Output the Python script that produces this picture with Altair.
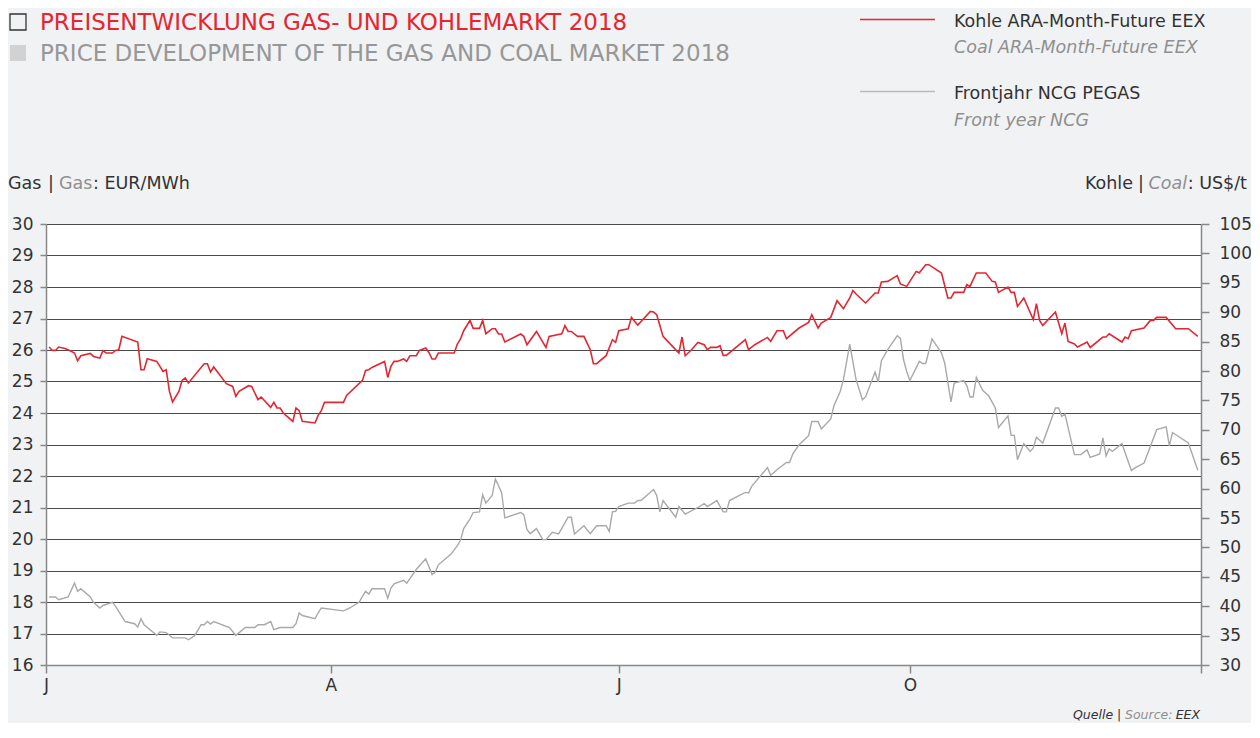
import altair as alt
import pandas as pd

# ---------------- data ----------------
# day offsets from 1 Jan 2018, coal price in US$/t (right axis)
coal_days = [1, 2, 3, 4, 6, 7, 9, 10, 11, 14,
             15, 17, 18, 19, 21, 22, 23, 24, 29, 30,
             31, 32, 35, 37, 38, 39, 40, 42, 43, 44,
             45, 50, 51, 52, 53, 57, 59, 60, 61, 64,
             65, 67, 68, 71, 72, 73, 74, 75, 78, 79,
             80, 81, 85, 86, 87, 88, 94, 95, 100, 101,
             102, 103, 107, 108, 109, 110, 111, 113, 114, 115,
             117, 118, 120, 121, 122, 123, 124, 129, 130, 131,
             132, 134, 135, 137, 138, 139, 141, 142, 143, 144,
             145, 150, 151, 152, 155, 158, 159, 163, 164, 165,
             166, 168, 170, 172, 173, 174, 177, 179, 180, 181,
             184, 185, 187, 191, 192, 193, 195, 198, 200, 201,
             202, 204, 206, 208, 209, 210, 212, 213, 214, 215,
             221, 222, 224, 228, 229, 231, 233, 234, 238, 241,
             242, 244, 245, 248, 250, 252, 254, 255, 256, 259,
             262, 263, 264, 266, 269, 270, 272, 275, 276, 278,
             279, 283, 285, 286, 287, 290, 291, 292, 294, 297,
             299, 300, 301, 304, 305, 306, 307, 309, 312, 313,
             314, 315, 319, 321, 322, 323, 325, 326, 329, 330,
             334, 335, 336, 340, 341, 342, 343, 347, 349, 350,
             351, 354, 357, 361, 364]
coal_values = [84.08, 83.50, 83.50, 84.08, 83.84, 83.62, 83.06, 81.75, 82.60, 82.99,
               82.48, 82.21, 83.45, 83.06, 83.06, 83.50, 83.62, 85.89, 84.93, 80.22,
               80.22, 82.09, 81.63, 79.93, 80.22, 76.53, 74.73, 76.53, 78.40, 78.81,
               77.96, 81.24, 81.24, 79.83, 80.68, 77.84, 77.38, 75.68, 76.53, 77.50,
               77.38, 75.12, 75.58, 73.81, 74.66, 73.71, 73.71, 72.86, 71.43, 73.71,
               73.25, 71.43, 71.16, 72.45, 73.25, 74.66, 74.66, 75.85, 78.40, 80.10,
               80.22, 80.61, 81.63, 78.91, 80.78, 81.63, 81.63, 82.04, 81.63, 82.60,
               82.60, 83.50, 83.91, 83.16, 82.04, 82.04, 83.06, 83.06, 84.59, 85.44,
               86.85, 88.61, 87.25, 87.25, 88.61, 86.34, 87.19, 87.19, 86.29, 86.29,
               84.93, 86.29, 85.89, 84.47, 86.73, 84.01, 85.89, 86.34, 87.70, 86.73,
               86.73, 85.89, 85.89, 83.62, 81.24, 81.24, 82.60, 85.32, 84.86, 86.85,
               87.19, 89.12, 87.82, 90.14, 90.03, 89.58, 85.89, 84.18, 83.06, 85.78,
               82.60, 83.62, 84.86, 84.47, 83.62, 84.01, 84.01, 84.30, 82.65, 82.65,
               85.32, 83.62, 84.47, 85.71, 85.03, 86.85, 86.85, 85.49, 87.31, 88.27,
               89.58, 87.31, 88.16, 89.12, 91.96, 90.60, 92.42, 93.71, 93.10, 91.57,
               93.27, 93.27, 95.14, 95.24, 96.21, 94.80, 94.39, 96.94, 96.72, 98.08,
               98.08, 96.67, 92.42, 92.42, 93.37, 93.37, 94.68, 94.39, 96.67, 96.67,
               95.24, 95.14, 93.37, 94.29, 93.37, 93.37, 90.99, 92.42, 88.73, 91.45,
               88.61, 87.76, 90.03, 86.34, 88.16, 85.03, 84.59, 84.08, 84.93, 84.01,
               85.78, 85.78, 86.34, 84.93, 85.78, 85.49, 86.85, 87.31, 88.61, 88.61,
               89.12, 89.12, 87.19, 87.19, 85.89]

# day offsets from 1 Jan 2018, gas price in EUR/MWh (left axis)
gas_days = [1, 3, 4, 7, 9, 10, 11, 14, 15, 17,
            18, 21, 22, 25, 28, 29, 30, 31, 35, 36,
            38, 40, 44, 45, 47, 49, 50, 51, 52, 53,
            58, 60, 63, 66, 67, 69, 71, 72, 74, 78,
            79, 80, 81, 85, 86, 87, 94, 96, 99, 100,
            101, 102, 103, 107, 108, 109, 110, 113, 114, 115,
            117, 120, 122, 123, 124, 128, 130, 131, 132, 134,
            135, 137, 138, 139, 141, 142, 143, 144, 145, 150,
            151, 152, 153, 155, 157, 158, 160, 162, 165, 166,
            167, 170, 172, 174, 177, 178, 179, 180, 181, 184,
            186, 187, 188, 192, 193, 194, 195, 199, 200, 202,
            206, 208, 209, 212, 214, 215, 216, 219, 221, 222,
            223, 228, 229, 231, 234, 235, 236, 238, 241, 242,
            244, 245, 248, 249, 251, 252, 254, 256, 258, 259,
            262, 263, 264, 266, 269, 270, 271, 272, 273, 276,
            277, 278, 280, 283, 284, 286, 287, 290, 291, 292,
            293, 294, 296, 298, 300, 301, 304, 305, 306, 307,
            309, 311, 312, 313, 315, 319, 320, 321, 322, 325,
            327, 329, 330, 333, 334, 335, 336, 337, 340, 343,
            344, 347, 349, 351, 354, 355, 356, 361, 364]
gas_values = [18.16, 18.16, 18.07, 18.16, 18.60, 18.34, 18.42, 18.16, 17.99, 17.81,
              17.89, 17.99, 17.86, 17.38, 17.31, 17.21, 17.47, 17.28, 16.94, 17.05,
              17.03, 16.86, 16.86, 16.80, 16.93, 17.28, 17.28, 17.38, 17.30, 17.38,
              17.19, 16.94, 17.19, 17.19, 17.28, 17.28, 17.38, 17.12, 17.19, 17.19,
              17.31, 17.65, 17.57, 17.47, 17.65, 17.81, 17.72, 17.81, 18.00, 18.18,
              18.34, 18.25, 18.42, 18.42, 18.12, 18.44, 18.58, 18.69, 18.60, 18.74,
              19.03, 19.37, 18.87, 18.95, 19.18, 19.52, 19.79, 19.96, 20.33, 20.64,
              20.84, 20.86, 21.41, 21.14, 21.38, 21.90, 21.70, 21.46, 20.67, 20.84,
              20.77, 20.30, 20.17, 20.33, 19.98, 19.98, 20.21, 20.16, 20.69, 20.69,
              20.16, 20.42, 20.17, 20.42, 20.42, 20.24, 20.86, 20.88, 21.03, 21.14,
              21.14, 21.22, 21.22, 21.57, 21.38, 20.86, 21.22, 20.69, 21.03, 20.79,
              21.00, 21.12, 21.03, 21.22, 20.86, 20.86, 21.22, 21.38, 21.48, 21.46,
              21.67, 22.27, 22.02, 22.20, 22.43, 22.43, 22.70, 22.99, 23.28, 23.73,
              23.73, 23.49, 23.81, 24.23, 24.69, 25.06, 26.19, 25.06, 24.42, 24.51,
              25.30, 24.98, 25.66, 26.01, 26.45, 26.37, 25.69, 25.32, 25.03, 25.64,
              25.57, 25.57, 26.35, 25.90, 25.59, 24.35, 24.95, 25.03, 24.87, 24.51,
              24.51, 25.13, 24.72, 24.53, 24.16, 23.54, 23.91, 23.29, 23.29, 22.52,
              23.03, 22.78, 22.89, 23.23, 23.05, 24.16, 24.16, 23.89, 23.97, 22.68,
              22.68, 22.83, 22.59, 22.70, 23.21, 22.64, 22.86, 22.78, 23.03, 22.17,
              22.25, 22.41, 22.94, 23.47, 23.56, 22.96, 23.38, 23.05, 22.18]

assert len(coal_days) == len(coal_values)
assert len(gas_days) == len(gas_values)

gas_ticks = list(range(16, 31))
coal_ticks = list(range(30, 106, 5))

# ---------------- style ----------------
FONT = "DejaVu Sans"
RED = "#e52630"
GRAY_LINE = "#a9a9a9"
TXT = "#333333"
TXT_GRAY = "#8f8f8f"
BG = "#f1f2f4"
W, H = 1155, 441
OX, OY = 46, 224  # absolute page position of plot origin (for annotations)

start = pd.Timestamp("2018-01-01")
coal_df = pd.DataFrame({"date": [start + pd.Timedelta(days=d) for d in coal_days],
                        "v": coal_values})
gas_df = pd.DataFrame({"date": [start + pd.Timedelta(days=d) for d in gas_days],
                       "v": gas_values})

x_scale = alt.Scale(domain=[alt.DateTime(year=2018, month=1, date=1),
                            alt.DateTime(year=2019, month=1, date=1)], nice=False)


def make_x_axis():
    return alt.Axis(
        title=None, grid=False,
        values=[alt.DateTime(year=2018, month=1, date=1), alt.DateTime(year=2018, month=4, date=1),
                alt.DateTime(year=2018, month=7, date=1), alt.DateTime(year=2018, month=10, date=1),
                alt.DateTime(year=2019, month=1, date=1)],
        labelExpr="year(datum.value) == 2019 ? '' : substring(timeFormat(datum.value, '%b'), 0, 1)",
        labelFont=FONT, labelFontSize=17, labelColor=TXT, labelPadding=4,
        tickSize=8, tickColor="#888888", domainColor="#888888", domainWidth=1.5, tickWidth=1.5,
        labelFlush=False, labelOverlap=False,
    )


gas_line = alt.Chart(gas_df).mark_line(color=GRAY_LINE, strokeWidth=1.4).encode(
    x=alt.X("date:T", scale=x_scale, axis=make_x_axis()),
    y=alt.Y("v:Q", scale=alt.Scale(domain=[16, 30], nice=False, zero=False),
            axis=alt.Axis(orient="left", title=None, values=gas_ticks, grid=True,
                          gridColor="#4a4a4a", gridWidth=1.1,
                          labelFont=FONT, labelFontSize=17, labelColor=TXT, labelPadding=7,
                          tickSize=6, tickColor="#888888", tickWidth=1.5,
                          domainColor="#888888", domainWidth=1.5)),
)

coal_line = alt.Chart(coal_df).mark_line(color=RED, strokeWidth=1.6).encode(
    x=alt.X("date:T", scale=x_scale, axis=make_x_axis()),
    y=alt.Y("v:Q", scale=alt.Scale(domain=[30, 105], nice=False, zero=False),
            axis=alt.Axis(orient="right", title=None, values=coal_ticks, grid=False,
                          labelFont=FONT, labelFontSize=17, labelColor=TXT, labelPadding=10,
                          tickSize=8, tickColor="#888888", tickWidth=1.5,
                          domainColor="#888888", domainWidth=1.5)),
)


def txt(s, x, y, size, color, italic=False, align="left"):
    return alt.Chart(pd.DataFrame({"t": [s]})).mark_text(
        align=align, baseline="alphabetic", font=FONT, fontSize=size, color=color,
        fontStyle="italic" if italic else "normal",
    ).encode(x=alt.value(x - OX), y=alt.value(y - OY), text="t:N")


def rule(x1, x2, y, color, w):
    return alt.Chart(pd.DataFrame({"a": [0]})).mark_rule(color=color, strokeWidth=w).encode(
        x=alt.value(x1 - OX), x2=alt.value(x2 - OX), y=alt.value(y - OY))


def box(x1, y1, x2, y2, fill, stroke):
    props = dict(strokeWidth=1.3)
    if fill:
        props["fill"] = fill
    else:
        props["fillOpacity"] = 0
    if stroke:
        props["stroke"] = stroke
    return alt.Chart(pd.DataFrame({"a": [0]})).mark_rect(**props).encode(
        x=alt.value(x1 - OX), x2=alt.value(x2 - OX), y=alt.value(y1 - OY), y2=alt.value(y2 - OY))


annos = [
    box(10, 14, 26, 30, None, "#333333"),
    txt("PREISENTWICKLUNG GAS- UND KOHLEMARKT 2018", 40, 30, 23, RED),
    box(10, 45, 26, 61, "#d2d2d2", None),
    txt("PRICE DEVELOPMENT OF THE GAS AND COAL MARKET 2018", 40, 61, 23, "#979797"),
    rule(860, 935, 19.5, RED, 1.5),
    txt("Kohle ARA-Month-Future EEX", 954, 27, 17.5, TXT),
    txt("Coal ARA-Month-Future EEX", 954, 53, 17.5, TXT_GRAY, italic=True),
    rule(860, 935, 91.5, "#bbbbbb", 1.5),
    txt("Frontjahr NCG PEGAS", 954, 99, 17.5, TXT),
    txt("Front year NCG", 954, 126, 17.5, TXT_GRAY, italic=True),
    txt("Gas", 8, 189, 17.5, TXT),
    txt("|", 48, 189, 17.5, TXT),
    txt("Gas", 59, 189, 17.5, TXT_GRAY),
    txt(": EUR/MWh", 93, 189, 17.5, TXT),
    txt(": US$/t", 1247, 189, 17.5, TXT, align="right"),
    txt("Coal", 1187, 189, 17.5, TXT_GRAY, italic=True, align="right"),
    txt("|", 1138, 189, 17.5, TXT),
    txt("Kohle", 1133, 189, 17.5, TXT, align="right"),
    txt("Quelle", 1073, 719, 12.5, TXT, italic=True),
    txt("|", 1117, 719, 12.5, TXT, italic=True),
    txt("Source:", 1125, 719, 12.5, TXT_GRAY, italic=True),
    txt("EEX", 1200, 719, 12.5, TXT, italic=True, align="right"),
]

chart = alt.layer(gas_line, coal_line, *annos).resolve_scale(y="independent").properties(
    width=W, height=H,
    autosize=alt.AutoSizeParams(type="none"),
    padding={"left": OX - 8, "top": OY - 8, "right": 50, "bottom": 58},
).configure(background=BG).configure_view(fill="white", strokeWidth=0)

chart.save("out.html", embed_options={"renderer": "svg", "actions": False})
